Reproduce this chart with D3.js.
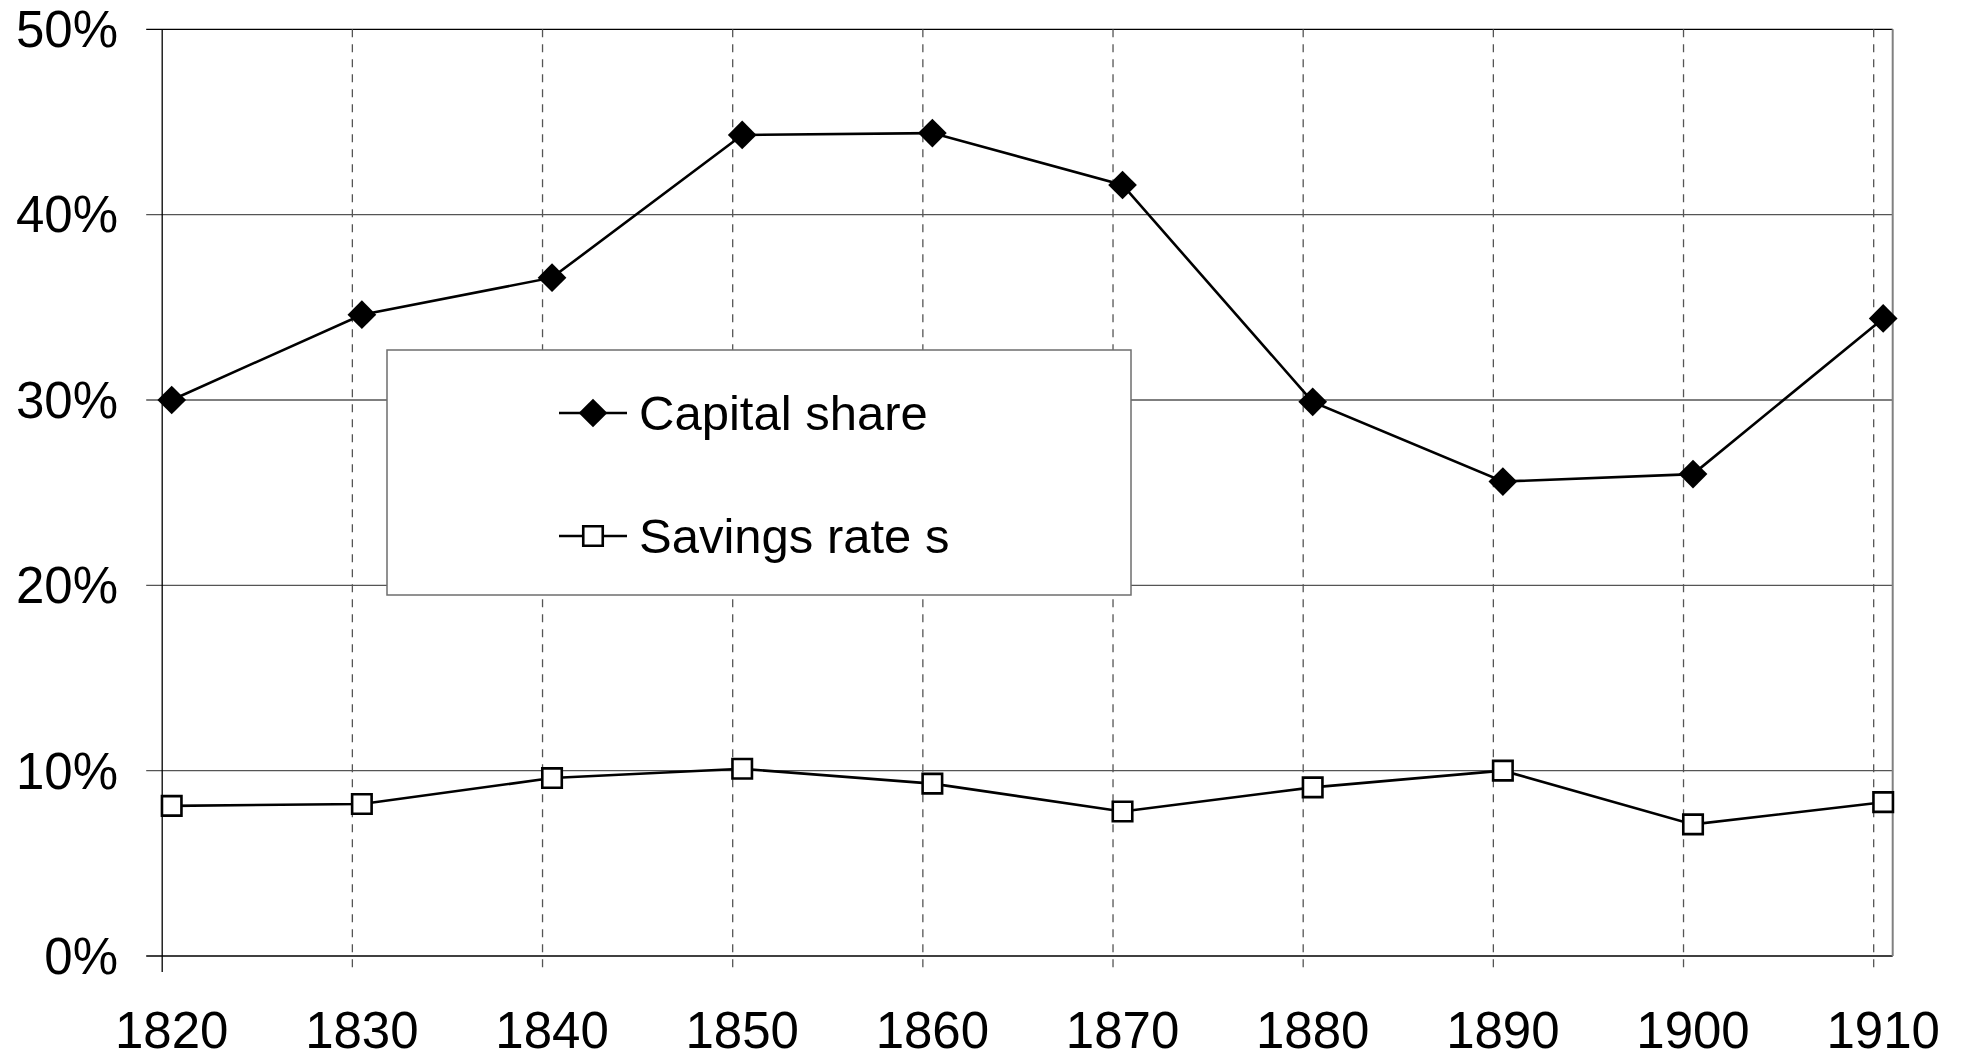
<!DOCTYPE html>
<meta charset="utf-8">
<html>
<head>
<title>Capital share and savings rate</title>
<script src="https://d3js.org/d3.v7.min.js"></script>
<style>
    body {
        margin: 0;
        background: #FFFFFF;
        font-family: "Liberation Sans", Arial, sans-serif;
    }
    #chart {
        position: absolute;
        top: 0;
        left: 0;
    }
</style>
</head>
<body>
<svg id="chart"></svg>
<script>

// data (percent)
var years = [1820, 1830, 1840, 1850, 1860, 1870, 1880, 1890, 1900, 1910]
var capitalShare = [30.0, 34.6, 36.6, 44.3, 44.4, 41.6, 29.9, 25.6, 26.0, 34.4]
var savingsRate = [8.1, 8.2, 9.6, 10.1, 9.3, 7.8, 9.1, 10.0, 7.1, 8.3]
var yTicks = [0, 10, 20, 30, 40, 50]
var seriesNames = ["Capital share", "Savings rate s"]

var width = 1964
var height = 1059
var margin = {top: 29.3, right: 71.3, bottom: 103, left: 162.2}

var svg = d3.select("#chart")
    .attr("width", width)
    .attr("height", height)

var x = d3.scaleLinear()
    .domain([1820, 1911])
    .range([margin.left, width - margin.right])

var y = d3.scaleLinear()
    .domain([0, 50])
    .range([height - margin.bottom, margin.top])

var tickLen = 16

// horizontal gridlines (also act as y ticks)
svg.append("g")
    .selectAll("line")
    .data(yTicks)
    .enter()
    .append("line")
    .attr("x1", margin.left - tickLen)
    .attr("x2", x(1911))
    .attr("y1", d => y(d))
    .attr("y2", d => y(d))
    .attr("stroke", d => (d == 50 || d == 0) ? "#000" : "#555")
    .attr("stroke-width", 1.3)

// vertical dashed gridlines
svg.append("g")
    .selectAll("line")
    .data(years.slice(1))
    .enter()
    .append("line")
    .attr("x1", d => x(d))
    .attr("x2", d => x(d))
    .attr("y1", y(50))
    .attr("y2", y(0) + tickLen)
    .attr("stroke", "#555")
    .attr("stroke-width", 1.3)
    .attr("stroke-dasharray", "8,7")

// y axis line
svg.append("line")
    .attr("x1", x(1820))
    .attr("x2", x(1820))
    .attr("y1", y(50))
    .attr("y2", y(0) + tickLen)
    .attr("stroke", "#000")
    .attr("stroke-width", 1.3)

// right border
svg.append("line")
    .attr("x1", x(1911))
    .attr("x2", x(1911))
    .attr("y1", y(50))
    .attr("y2", y(0))
    .attr("stroke", "#808080")
    .attr("stroke-width", 2)

// y labels
svg.append("g")
    .selectAll("text")
    .data(yTicks)
    .enter()
    .append("text")
    .text(d => d + "%")
    .attr("x", 118)
    .attr("y", d => y(d))
    .attr("dy", "0.35em")
    .attr("text-anchor", "end")
    .attr("font-size", "51px")
    .attr("fill", "#000")

// x labels
svg.append("g")
    .selectAll("text")
    .data(years)
    .enter()
    .append("text")
    .text(d => d)
    .attr("x", d => x(d + 0.5))
    .attr("y", 1048)
    .attr("text-anchor", "middle")
    .attr("font-size", "51px")
    .attr("fill", "#000")

var line = d3.line()
    .x((d, i) => x(years[i] + 0.5))
    .y(d => y(d))

var diamond = d3.symbol().type(d3.symbolSquare).size(412)
var square = d3.symbol().type(d3.symbolSquare).size(380)

// capital share
svg.append("path")
    .datum(capitalShare)
    .attr("d", line)
    .attr("fill", "none")
    .attr("stroke", "#000")
    .attr("stroke-width", 2.6)

svg.append("g")
    .selectAll("path")
    .data(capitalShare)
    .enter()
    .append("path")
    .attr("d", diamond)
    .attr("transform", (d, i) => "translate(" + x(years[i] + 0.5) + "," + y(d) + ") rotate(45)")
    .attr("fill", "#000")

// savings rate
svg.append("path")
    .datum(savingsRate)
    .attr("d", line)
    .attr("fill", "none")
    .attr("stroke", "#000")
    .attr("stroke-width", 2.6)

svg.append("g")
    .selectAll("path")
    .data(savingsRate)
    .enter()
    .append("path")
    .attr("d", square)
    .attr("transform", (d, i) => "translate(" + x(years[i] + 0.5) + "," + y(d) + ")")
    .attr("fill", "#fff")
    .attr("stroke", "#000")
    .attr("stroke-width", 2.6)

// legend
var legend = svg.append("g")

legend.append("rect")
    .attr("x", 387)
    .attr("y", 350)
    .attr("width", 744)
    .attr("height", 245)
    .attr("fill", "#fff")
    .attr("stroke", "#6e6e6e")
    .attr("stroke-width", 1.5)

var legendRows = [413, 536]

legend.selectAll("line")
    .data(seriesNames)
    .enter()
    .append("line")
    .attr("x1", 559)
    .attr("x2", 627)
    .attr("y1", (d, i) => legendRows[i])
    .attr("y2", (d, i) => legendRows[i])
    .attr("stroke", "#000")
    .attr("stroke-width", 2.6)

legend.selectAll("path")
    .data(seriesNames)
    .enter()
    .append("path")
    .attr("d", (d, i) => i == 0 ? diamond() : square())
    .attr("transform", (d, i) => "translate(593," + legendRows[i] + ")" + (i == 0 ? " rotate(45)" : ""))
    .attr("fill", (d, i) => i == 0 ? "#000" : "#fff")
    .attr("stroke", (d, i) => i == 0 ? "none" : "#000")
    .attr("stroke-width", 2.6)

legend.selectAll("text")
    .data(seriesNames)
    .enter()
    .append("text")
    .text(d => d)
    .attr("x", 639)
    .attr("y", (d, i) => legendRows[i])
    .attr("dy", "0.35em")
    .attr("font-size", "49px")
    .attr("fill", "#000")
</script>
</body>
</html>
